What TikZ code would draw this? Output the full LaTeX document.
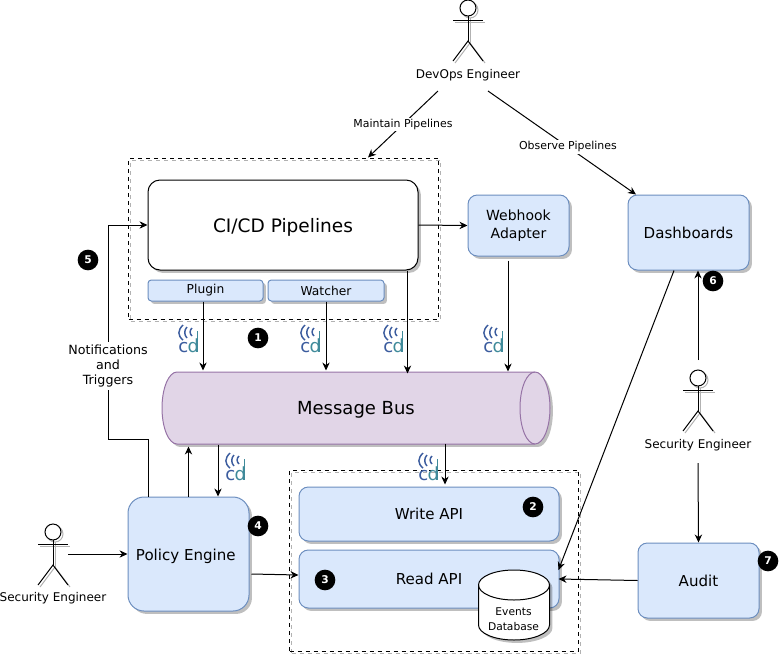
\documentclass[tikz,border=0pt]{standalone}
\usepackage{fontspec}
\setmainfont{DejaVu Sans}
\usetikzlibrary{arrows.meta,calc,shadows}
\definecolor{boxfill}{HTML}{DAE8FC}\definecolor{boxline}{HTML}{6C8EBF}
\definecolor{busfill}{HTML}{E1D5E7}\definecolor{busline}{HTML}{9673A6}
\definecolor{cdblue}{HTML}{3B5C9E}\definecolor{cdteal}{HTML}{3F8A9A}
\tikzset{
  sized/.style 2 args={minimum width=#1*.75pt,minimum height=#2*.75pt,inner sep=0pt},
  softshadow/.style={drop shadow={shadow xshift=2.2pt,shadow yshift=-2.2pt,fill=black,opacity=.25}},
  bluebox/.style={draw=boxline,fill=boxfill,rounded corners=7pt,softshadow,font=\fontsize{11.3}{13}\selectfont,align=center},
  tagbox/.style={bluebox,rounded corners=2.5pt,font=\fontsize{9.2}{10}\selectfont},
  dashbox/.style={draw,dashed,preaction={draw=black!30,dashed,transform canvas={shift={(1.5pt,-1.5pt)}}}},
  smalltext/.style={font=\fontsize{9}{11.25}\selectfont,align=center},
  edgetext/.style={fill=white,inner sep=1pt,font=\fontsize{8.2}{10}\selectfont},
  badge/.style={circle,fill=black,text=white,inner sep=0pt,minimum size=15.5pt,font=\fontsize{8}{8}\bfseries\selectfont},
  arrow/.style={-{Stealth[length=6pt,width=5.5pt]}},
  cdmark/.pic={\draw[cdblue,line width=1.1pt](-6,-13)..controls(-11.5,-7.5)and(-11.5,-2.5)..(-6,2);
    \draw[cdblue,line width=1.1pt](-2,-11)..controls(-5,-8)and(-5,-3)..(-2,0);
    \draw[cdblue,line width=1.1pt](3,-10)..controls(.5,-8)and(.5,-4)..(3,-2);
    \draw[cdteal,line width=1.2pt](8.6,-7)--(8.6,14);
    \node[anchor=base,inner sep=0pt,text=cdteal,font=\fontsize{13.6}{14}\selectfont](-txt)at(-.3,14){\textcolor{cdblue}{c}\kern-.6pt d};},
  actor/.pic={\begin{scope}[black!30,shift={(2,2)}]\draw(0,0)circle[radius=8];\draw(-15,12)--(15,12);\draw(0,8)--(0,33);\draw(-15,53)--(0,33)--(15,53);\end{scope}
    \draw[fill=white](0,0)circle[radius=8];\draw(-15,12)--(15,12);\draw(0,8)--(0,33);\draw(-15,53)--(0,33)--(15,53);}
}
\begin{document}
\begin{tikzpicture}[x=.75pt,y=-.75pt,line width=.75pt]
\useasboundingbox(0,0)rectangle(779,654);
\node[dashbox,sized={310}{161}](pipes)at(283.5,238.5){};
\node[dashbox,sized={289}{181}](apis)at(434,560.5){};
\node[draw,fill=white,rounded corners=9pt,softshadow,sized={270}{90},text depth=0pt,font=\fontsize{13.9}{16}\selectfont](cicd)at(283,225){CI/CD Pipelines};
\node[tagbox,sized={115}{21}](plugin)at(205.5,290.5){\raisebox{-.7pt}{Plugin}};
\node[tagbox,sized={116}{21}](watcher)at(326,290.5){Watcher};
\node[bluebox,sized={101}{61},font=\fontsize{10.5}{13}\selectfont](webhook)at(518.5,225.5){Webhook\\Adapter};
\node[bluebox,sized={121}{75}](dash)at(688.5,232.5){\raisebox{-1pt}{Dashboards}};
\draw[draw=busline,fill=busfill,softshadow](177,372)--(535,372)arc[start angle=-90,end angle=90,x radius=15,y radius=36]--(177,444)arc[start angle=90,end angle=270,x radius=15,y radius=36]--cycle;
\draw[busline](535,372)arc[start angle=-90,end angle=-270,x radius=15,y radius=36];
\node[sized={388}{72},text depth=0pt,font=\fontsize{13.5}{16}\selectfont](bus)at(356,408){Message Bus};
\node[bluebox,rounded corners=12pt,sized={121}{114},text depth=0pt](policy)at(188.5,554){\raisebox{-1pt}{Policy Engine}\kern4pt};
\node[bluebox,sized={260}{54}](write)at(429,514){Write API};
\node[bluebox,sized={260}{58}](read)at(429,579){Read API};
\node[bluebox,sized={121}{75}](audit)at(698.5,580.5){Audit};
\draw[fill=white,softshadow](478.5,585)--(478.5,625)arc[start angle=180,end angle=0,x radius=35.5,y radius=15]--(549.5,585)arc[start angle=0,end angle=-180,x radius=35.5,y radius=15]--cycle;
\draw(478.5,585)arc[start angle=180,end angle=0,x radius=35.5,y radius=15];
\node[smalltext,font=\fontsize{8}{11}\selectfont](db)at(513.5,619.5){Events\\Database};
\pic at(468,8){actor};\node[smalltext](devops)at(468,75){DevOps Engineer};
\pic at(698,378){actor};\node[smalltext](secright)at(698,445){Security Engineer};
\pic at(53,532){actor};\node[smalltext](secleft)at(53,598){Security Engineer};
\draw[arrow]($(devops)+(-30,16)$)--node[edgetext](maintain){Maintain Pipelines}($(pipes.north)+(84.5,0)$);
\draw[arrow]($(devops)+(20,16)$)--node[edgetext,pos=.54](observe){Observe Pipelines}($(dash.north)+(-52.5,0)$);
\draw[arrow](cicd.east)--(webhook.west);
\draw[arrow]($(plugin.south)+(-2.5,0)$)--($(plugin.south)+(-2.5,69)$);\draw[arrow](watcher.south)--($(watcher.south)+(0,69)$);
\draw[arrow]($(cicd.south east)+(-11,0)$)--($(cicd.south east)+(-11,103)$);\draw[arrow]($(webhook.south)+(-10.5,4)$)--($(webhook.south)+(-10.5,115)$);
\draw[arrow]($(policy.north)+(-40.5,0)$)--++(0,-57)-|(108,225)--(cicd.west);
\node[smalltext,fill=white,inner sep=2pt,font=\fontsize{9.5}{11.25}\selectfont](notify)at(108,366){Notifications\\and\\Triggers};
\draw[arrow](policy.north)--($(policy.north)+(0,-50)$);\draw[arrow]($(policy.north)+(29.5,-52)$)--($(policy.north)+(29.5,0)$);
\draw[arrow]($(write.north)+(16,-43)$)--($(write.north)+(16,-2)$);
\draw[arrow]($(secleft)+(15,-44)$)--(policy.west);
\draw[arrow]($(policy.east)+(2,20)$)--($(read.west)+(0,-4)$);
\draw[arrow]($(dash.south)+(-14.5,0)$)--($(read.east)+(-1,-9)$);
\draw[arrow](audit.west)--($(read.east)+(-1,0)$);
\draw[arrow]($(secright)+(0,-85)$)--(dash.south-|secright);\draw[arrow]($(secright)+(0,18)$)--(audit.north);
\pic(cda)at(189,338){cdmark};\pic(cdb)at(311,338){cdmark};\pic(cdc)at(394,338){cdmark};\pic(cdd)at(494,338){cdmark};\pic(cde)at(236,466){cdmark};\pic(cdf)at(429,466){cdmark};
\node[badge](one)at(258,338){1};\node[badge](two)at(533,507){2};\node[badge](three)at(325,580){3};\node[badge](four)at(258,526){4};\node[badge](five)at(88,260){5};\node[badge](six)at(713,281){6};\node[badge](seven)at(768,561){7};
\end{tikzpicture}
\end{document}
